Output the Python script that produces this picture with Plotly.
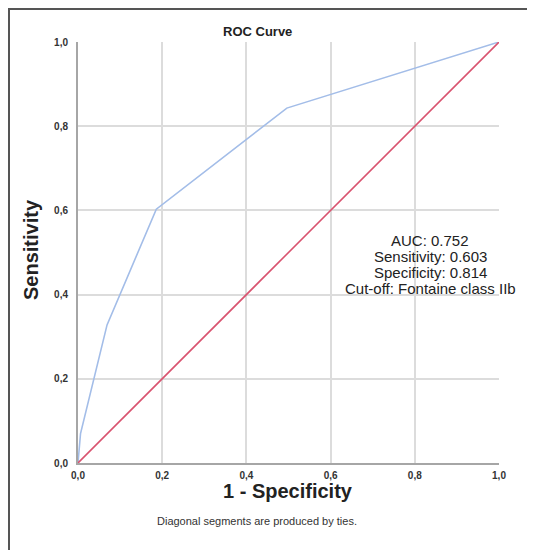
import plotly.graph_objects as go

# ROC curve data (1 - specificity, sensitivity)
fpr = [0.0, 0.006, 0.069, 0.186, 0.496, 1.0]
tpr = [0.0, 0.07, 0.328, 0.603, 0.843, 1.0]
ref_x = [0.0, 1.0]
ref_y = [0.0, 1.0]

tick_vals = [0.0, 0.2, 0.4, 0.6, 0.8, 1.0]
tick_text = ["0,0", "0,2", "0,4", "0,6", "0,8", "1,0"]

stats_lines = ["AUC: 0.752", "Sensitivity: 0.603", "Specificity: 0.814",
               "Cut-off: Fontaine class IIb"]

FONT = "Liberation Sans, Arial, sans-serif"

OFF = 8  # page body margin in the browser
W, H = 535 - 2 * OFF, 558 - 2 * OFF   # fit inside the window without scrollbars
L, T = 78 - OFF, 42 - OFF
R = W - (499 - OFF)
B = H - (463 - OFF)
pw = W - L - R
ph = H - T - B

def px_x(px):
    return (px - OFF - L) / pw

def px_y(py):
    return (H - B - (py - OFF)) / ph

fig = go.Figure()
fig.add_trace(go.Scatter(x=fpr, y=tpr, mode="lines",
                         line=dict(color="#a3bde8", width=1.6),
                         hoverinfo="skip", showlegend=False))
fig.add_trace(go.Scatter(x=ref_x, y=ref_y, mode="lines",
                         line=dict(color="#d9536f", width=1.6),
                         hoverinfo="skip", showlegend=False))

annotations = []
line_px = [240, 256, 272, 288]
for txt, py in zip(stats_lines, line_px):
    annotations.append(dict(x=px_x(430), y=px_y(py), xref="paper", yref="paper",
                            text=txt, showarrow=False, xanchor="center", yanchor="middle",
                            font=dict(family=FONT, size=15, color="#222")))
annotations.append(dict(x=px_x(257), y=px_y(32), xref="paper", yref="paper",
                        text="<b>ROC Curve</b>", showarrow=False,
                        xanchor="center", yanchor="middle",
                        font=dict(family=FONT, size=13, color="#222")))
annotations.append(dict(x=px_x(288), y=px_y(491), xref="paper", yref="paper",
                        text="<b>1 - Specificity</b>", showarrow=False,
                        xanchor="center", yanchor="middle",
                        font=dict(family=FONT, size=20, color="#222")))
annotations.append(dict(x=px_x(31), y=px_y(250), xref="paper", yref="paper",
                        text="<b>Sensitivity</b>", showarrow=False, textangle=-90,
                        xanchor="center", yanchor="middle",
                        font=dict(family=FONT, size=20, color="#222")))
annotations.append(dict(x=px_x(257), y=px_y(521), xref="paper", yref="paper",
                        text="Diagonal segments are produced by ties.", showarrow=False,
                        xanchor="center", yanchor="middle",
                        font=dict(family=FONT, size=11, color="#333")))

shapes = [
    dict(type="line", xref="paper", yref="paper",
         x0=px_x(9), x1=px_x(9), y0=px_y(9), y1=px_y(560),
         line=dict(color="#555", width=2)),
    dict(type="line", xref="paper", yref="paper",
         x0=px_x(8), x1=px_x(540), y0=px_y(9), y1=px_y(9),
         line=dict(color="#555", width=2)),
]

fig.update_layout(
    width=W, height=H,
    margin=dict(l=L, r=R, t=T, b=B),
    paper_bgcolor="white", plot_bgcolor="white",
    annotations=annotations, shapes=shapes,
    showlegend=False,
)
axis_common = dict(range=[0, 1], tickvals=tick_vals, ticktext=tick_text,
                   showgrid=True, gridcolor="#dcdcdc", gridwidth=1.5,
                   zeroline=False, showline=True, linecolor="#a6a6a6", linewidth=2,
                   ticks="", tickfont=dict(family=FONT, size=10, color="#333", weight="bold"),
                   fixedrange=True)
fig.update_xaxes(**axis_common, ticklabelstandoff=2)
fig.update_yaxes(**axis_common, ticklabelstandoff=6)

fig.write_html("out.html")
